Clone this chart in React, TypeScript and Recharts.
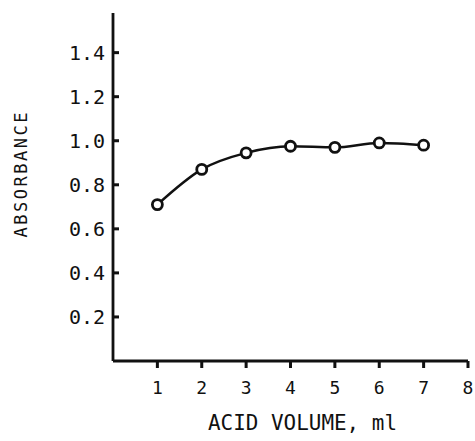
import { LineChart, Line, XAxis, YAxis } from 'recharts';

const acidVolume = [1, 2, 3, 4, 5, 6, 7];
const absorbance = [0.71, 0.87, 0.945, 0.975, 0.97, 0.99, 0.98];
const xTicks = [1, 2, 3, 4, 5, 6, 7, 8];
const yTicks = [0.2, 0.4, 0.6, 0.8, 1.0, 1.2, 1.4];

const data = acidVolume.map((v, i) => ({ volume: v, absorbance: absorbance[i] }));

const INK = '#111';
const FONT = '"DejaVu Sans Mono", "Liberation Mono", monospace';
// plot edges (margin.top + plot height, yAxis width)
const AXIS_X = 113;
const AXIS_Y = 361;

const XTick = ({ x, payload }: any) => (
  <g>
    <rect x={x - 1.5} y={AXIS_Y} width={3} height={7} fill={INK} />
    <text x={x} y={AXIS_Y + 33} textAnchor="middle" fontSize={18} fontFamily={FONT} fill={INK}>
      {payload.value}
    </text>
  </g>
);

const YTick = ({ y, payload }: any) => (
  <g>
    <rect x={AXIS_X} y={y - 1.5} width={6} height={3} fill={INK} />
    <text x={AXIS_X - 8} y={y + 7} textAnchor="end" fontSize={20} fontFamily={FONT} fill={INK}>
      {payload.value.toFixed(1)}
    </text>
  </g>
);

export default function App() {
  return (
    <div style={{ position: 'absolute', left: 0, top: 0, background: '#fff' }}>
      <LineChart width={475} height={441} data={data} margin={{ top: 13, right: 7, left: 0, bottom: 0 }}>
        <XAxis
          dataKey="volume"
          type="number"
          domain={[0, 8]}
          ticks={xTicks}
          height={80}
          tickLine={false}
          axisLine={{ stroke: INK, strokeWidth: 2.8 }}
          tick={<XTick />}
          label={{
            content: ({ viewBox }: any) => (
              <text
                x={viewBox.x + viewBox.width / 2 + 12}
                y={viewBox.y + 69}
                textAnchor="middle"
                fontSize={22}
                fontFamily={FONT}
                fill={INK}
                textLength={189}
                lengthAdjust="spacingAndGlyphs"
              >
                ACID VOLUME, ml
              </text>
            ),
          }}
        />
        <YAxis
          type="number"
          domain={[0, 1.58]}
          ticks={yTicks}
          width={113}
          tickLine={false}
          axisLine={{ stroke: INK, strokeWidth: 2.8 }}
          tick={<YTick />}
          label={{
            content: () => (
              <text
                x={21}
                y={175}
                transform="rotate(-90 21 175)"
                textAnchor="middle"
                dominantBaseline="central"
                fontSize={17}
                fontFamily={FONT}
                fill={INK}
                textLength={125}
                lengthAdjust="spacing"
              >
                ABSORBANCE
              </text>
            ),
          }}
        />
        <Line
          dataKey="absorbance"
          type="monotone"
          stroke={INK}
          strokeWidth={2.5}
          dot={{ r: 5, fill: '#fff', stroke: INK, strokeWidth: 2.8 }}
          isAnimationActive={false}
        />
      </LineChart>
    </div>
  );
}
